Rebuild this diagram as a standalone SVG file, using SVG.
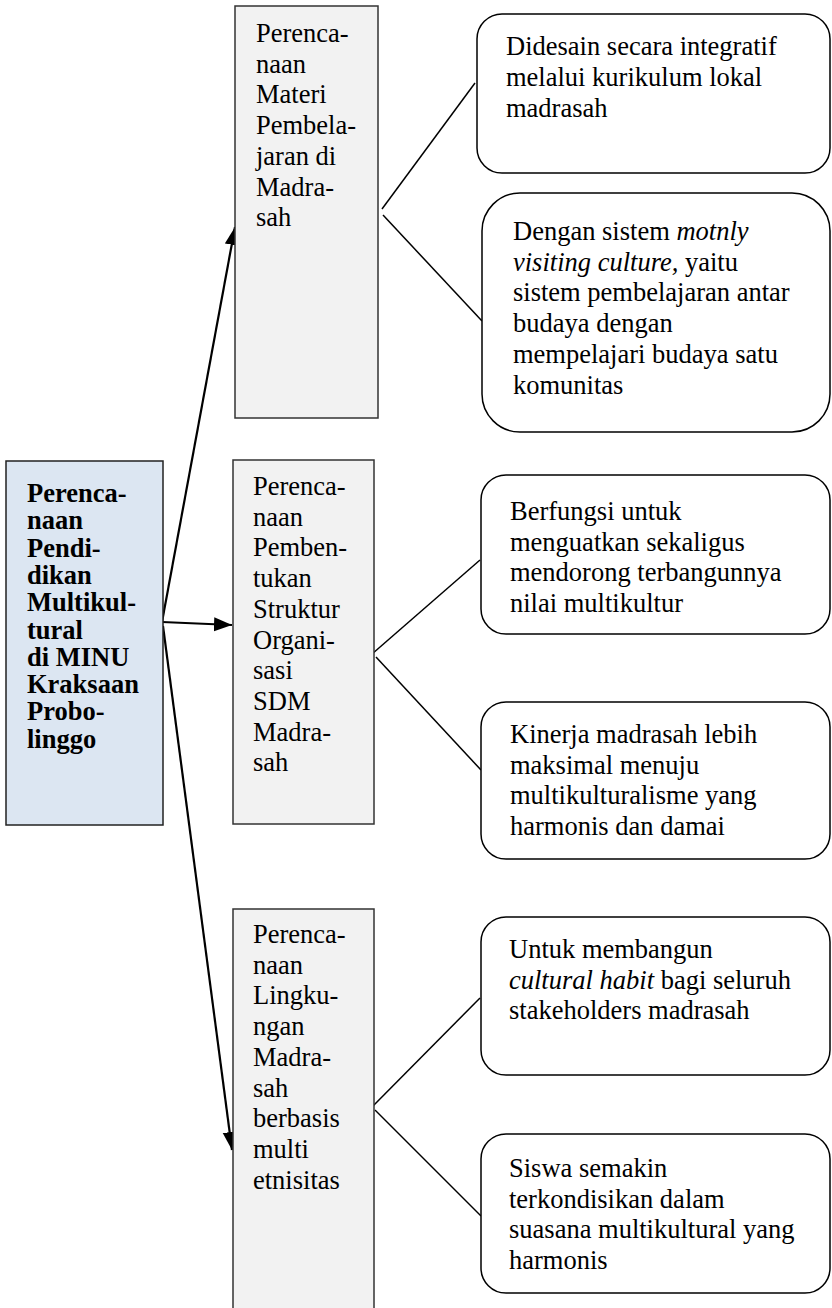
<svg xmlns="http://www.w3.org/2000/svg" width="832" height="1308" viewBox="0 0 832 1308">
<style>
  text { font-family: "Liberation Serif", "Times New Roman", serif; font-size: 26.5px; fill: #000; }
  .bold { font-weight: bold; }
  .it { font-style: italic; }
  .main { fill: #dce6f2; stroke: #222; stroke-width: 1.5; }
  .mid { fill: #f2f2f2; stroke: #333; stroke-width: 1.5; }
  .leaf { fill: #fff; stroke: #000; stroke-width: 1.5; }
  .arrow { fill: none; stroke: #000; stroke-width: 2.2; }
  .link { fill: none; stroke: #000; stroke-width: 1.5; }
</style>
<defs>
  <marker id="ah" markerUnits="userSpaceOnUse" markerWidth="20" markerHeight="16" refX="18" refY="7" orient="auto">
    <path d="M0,0 L18,7 L0,14 Z" fill="#000"/>
  </marker>
</defs>
<rect width="832" height="1308" fill="#fff"/>

<g id="connectors">
  <line class="arrow" x1="162" y1="622" x2="235" y2="227" marker-end="url(#ah)"/>
  <line class="arrow" x1="162" y1="622" x2="232" y2="625" marker-end="url(#ah)"/>
  <line class="arrow" x1="163" y1="626" x2="232" y2="1150" marker-end="url(#ah)"/>
  <line class="link" x1="382" y1="209" x2="475" y2="83"/>
  <line class="link" x1="383" y1="215" x2="482" y2="321"/>
  <line class="link" x1="372" y1="654" x2="480" y2="560"/>
  <line class="link" x1="376" y1="657" x2="481" y2="770"/>
  <line class="link" x1="372" y1="1107" x2="480" y2="998"/>
  <line class="link" x1="375" y1="1110" x2="481" y2="1216"/>
</g>

<g id="node-main">
  <rect class="main" x="6" y="461" width="157" height="364"/>
  <text class="bold" x="27" y="502">Perenca-</text>
  <text class="bold" x="27" y="529.3">naan</text>
  <text class="bold" x="27" y="556.6">Pendi-</text>
  <text class="bold" x="27" y="583.9">dikan</text>
  <text class="bold" x="27" y="611.2">Multikul-</text>
  <text class="bold" x="27" y="638.5">tural</text>
  <text class="bold" x="27" y="665.8">di MINU</text>
  <text class="bold" x="27" y="693.1">Kraksaan</text>
  <text class="bold" x="27" y="720.4">Probo-</text>
  <text class="bold" x="27" y="747.7">linggo</text>
</g>

<g id="node-materi">
  <rect class="mid" x="235" y="6" width="143" height="412"/>
  <text x="256" y="42">Perenca-</text>
  <text x="256" y="72.7">naan</text>
  <text x="256" y="103.4">Materi</text>
  <text x="256" y="134.1">Pembela-</text>
  <text x="256" y="164.8">jaran di</text>
  <text x="256" y="195.5">Madra-</text>
  <text x="256" y="226.2">sah</text>
</g>

<g id="node-struktur">
  <rect class="mid" x="233" y="460" width="141" height="364"/>
  <text x="253" y="495">Perenca-</text>
  <text x="253" y="525.7">naan</text>
  <text x="253" y="556.4">Pemben-</text>
  <text x="253" y="587.1">tukan</text>
  <text x="253" y="617.8">Struktur</text>
  <text x="253" y="648.5">Organi-</text>
  <text x="253" y="679.2">sasi</text>
  <text x="253" y="709.9">SDM</text>
  <text x="253" y="740.6">Madra-</text>
  <text x="253" y="771.3">sah</text>
</g>

<g id="node-lingkungan">
  <rect class="mid" x="233" y="909" width="141" height="412"/>
  <text x="253" y="943">Perenca-</text>
  <text x="253" y="973.7">naan</text>
  <text x="253" y="1004.4">Lingku-</text>
  <text x="253" y="1035.1">ngan</text>
  <text x="253" y="1065.8">Madra-</text>
  <text x="253" y="1096.5">sah</text>
  <text x="253" y="1127.2">berbasis</text>
  <text x="253" y="1157.9">multi</text>
  <text x="253" y="1188.6">etnisitas</text>
</g>

<g id="node-a">
  <rect class="leaf" x="477" y="14" width="353" height="159" rx="25" ry="25"/>
  <text x="506" y="55">Didesain secara integratif</text>
  <text x="506" y="86">melalui kurikulum lokal</text>
  <text x="506" y="117">madrasah</text>
</g>

<g id="node-b">
  <rect class="leaf" x="482" y="193" width="348" height="239" rx="38" ry="38"/>
  <text x="513" y="240">Dengan sistem <tspan class="it">motnly</tspan></text>
  <text x="513" y="270.7"><tspan class="it">visiting culture,</tspan> yaitu</text>
  <text x="513" y="301.4">sistem pembelajaran antar</text>
  <text x="513" y="332.1">budaya dengan</text>
  <text x="513" y="362.8">mempelajari budaya satu</text>
  <text x="513" y="393.5">komunitas</text>
</g>

<g id="node-c">
  <rect class="leaf" x="481" y="475" width="349" height="159" rx="25" ry="25"/>
  <text x="510" y="520">Berfungsi untuk</text>
  <text x="510" y="550.7">menguatkan sekaligus</text>
  <text x="510" y="581.4">mendorong terbangunnya</text>
  <text x="510" y="612.1">nilai multikultur</text>
</g>

<g id="node-d">
  <rect class="leaf" x="481" y="702" width="349" height="157" rx="25" ry="25"/>
  <text x="510" y="743">Kinerja madrasah lebih</text>
  <text x="510" y="773.7">maksimal menuju</text>
  <text x="510" y="804.4">multikulturalisme yang</text>
  <text x="510" y="835.1">harmonis dan damai</text>
</g>

<g id="node-e">
  <rect class="leaf" x="481" y="917" width="349" height="158" rx="25" ry="25"/>
  <text x="509" y="958">Untuk membangun</text>
  <text x="509" y="988.7"><tspan class="it">cultural habit</tspan> bagi seluruh</text>
  <text x="509" y="1019.4">stakeholders madrasah</text>
</g>

<g id="node-f">
  <rect class="leaf" x="481" y="1134" width="349" height="159" rx="25" ry="25"/>
  <text x="509" y="1177">Siswa semakin</text>
  <text x="509" y="1207.7">terkondisikan dalam</text>
  <text x="509" y="1238.4">suasana multikultural yang</text>
  <text x="509" y="1269.1">harmonis</text>
</g>
</svg>
